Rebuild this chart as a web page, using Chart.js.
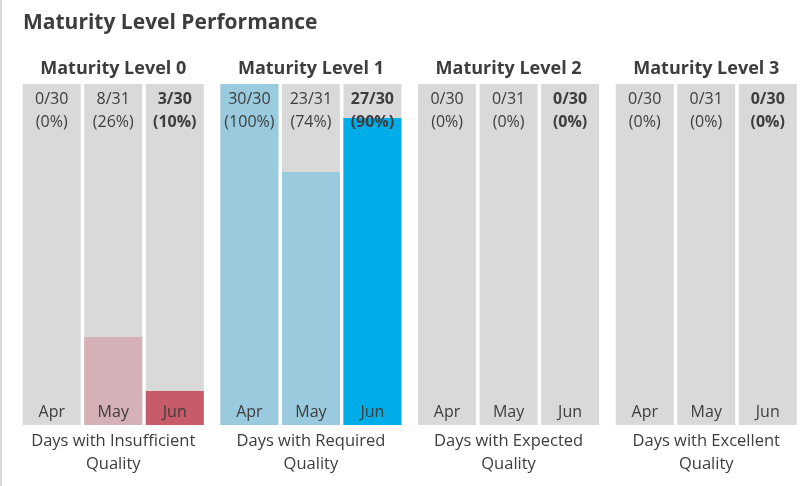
<!DOCTYPE html>
<html>
<head>
<meta charset="utf-8">
<title>Maturity Level Performance</title>
<script src="https://cdn.jsdelivr.net/npm/chart.js@4"></script>
<style>
  html, body { margin: 0; padding: 0; background: #fff; }
  #wrap { position: relative; width: 809px; height: 486px; }
  #wrap::before {
    content: "";
    position: absolute;
    left: 0;
    top: 0;
    width: 2px;
    height: 486px;
    background: #d9d9d9;
  }
</style>
</head>
<body>
<div id="wrap"><canvas id="chart"></canvas></div>
<script>
const chartTitle = "Maturity Level Performance";
const levels = ["Maturity Level 0", "Maturity Level 1", "Maturity Level 2", "Maturity Level 3"];
const qualityLabels = [
  ["Days with Insufficient", "Quality"],
  ["Days with Required", "Quality"],
  ["Days with Expected", "Quality"],
  ["Days with Excellent", "Quality"]
];
const months = ["Apr", "May", "Jun"];
const monthDays = [30, 31, 30];
// days per month that reached each level
const daysMet = [
  [0, 8, 3],
  [30, 23, 27],
  [0, 0, 0],
  [0, 0, 0]
];

const pastColors = ["#D5B0B6", "#9ACADD", "#B8D9A8", "#F2DC9B"];
const currentColors = ["#C75B6A", "#00ADE8", "#70AD47", "#FFC000"];
const trackColor = "#D9D9D9";
const textColor = "#3D3D3D";
const fontFamily = "'Open Sans', Lato, sans-serif";

/* Groups are spaced a little wider than the bars inside them. */
const groupStep = 3.214;

let fillPoints = [];
let trackPoints = [];
let fillColors = [];
daysMet.forEach((row, g) => {
  row.forEach((d, m) => {
    let x = g * groupStep + m;
    fillPoints.push({ x: x, y: (d / monthDays[m]) * 100 });
    trackPoints.push({ x: x, y: 100 });
    fillColors.push(m === months.length - 1 ? currentColors[g] : pastColors[g]);
  });
});

const labelPlugin = {
  id: "maturityLabels",
  afterDatasetsDraw(chart) {
    let ctx = chart.ctx;
    let area = chart.chartArea;
    let bars = chart.getDatasetMeta(0).data;
    ctx.save();
    ctx.fillStyle = textColor;
    ctx.textBaseline = "alphabetic";

    /* Chart title */
    ctx.textAlign = "left";
    ctx.font = "bold 21px " + fontFamily;
    ctx.fillText(chartTitle, 23, 29);

    ctx.textAlign = "center";
    levels.forEach((name, g) => {
      let mid = bars[g * 3 + 1].x;
      ctx.font = "bold 18px " + fontFamily;
      ctx.fillText(name, mid, area.top - 10);

      months.forEach((mon, m) => {
        let bar = bars[g * 3 + m];
        let d = daysMet[g][m];
        let pct = Math.round((d / monthDays[m]) * 100);
        let bold = m === months.length - 1 ? "bold " : "";
        ctx.font = bold + "16px " + fontFamily;
        ctx.fillText(d + "/" + monthDays[m], bar.x, area.top + 20);
        ctx.fillText("(" + pct + "%)", bar.x, area.top + 43);
        ctx.font = "16px " + fontFamily;
        ctx.fillText(mon, bar.x, area.bottom - 8);
      });

      ctx.font = "16.5px " + fontFamily;
      qualityLabels[g].forEach((line, k) => {
        ctx.fillText(line, mid, area.bottom + 21 + k * 23);
      });
    });
    ctx.restore();
  }
};

function draw() {
  let ctx = document.querySelector("#chart").getContext("2d");
  new Chart(ctx, {
    type: "bar",
    data: {
      datasets: [
        {
          label: "Days met",
          data: fillPoints,
          backgroundColor: fillColors,
          grouped: false,
          barThickness: 58,
          borderWidth: 0,
          inflateAmount: 0,
          order: 0
        },
        {
          label: "Days in month",
          data: trackPoints,
          backgroundColor: trackColor,
          grouped: false,
          barThickness: 58,
          borderWidth: 0,
          inflateAmount: 0,
          order: 1
        }
      ]
    },
    options: {
      responsive: true,
      maintainAspectRatio: false,
      animation: false,
      layout: {
        padding: { top: 84, bottom: 61, left: 21, right: 10.5 }
      },
      plugins: {
        legend: { display: false },
        tooltip: { enabled: false },
        title: { display: false }
      },
      scales: {
        x: {
          type: "linear",
          display: false,
          offset: false,
          min: -0.5,
          max: (levels.length - 1) * groupStep + months.length - 0.5
        },
        y: {
          display: false,
          min: 0,
          max: 100
        }
      }
    },
    plugins: [labelPlugin]
  });
}

if (document.fonts && document.fonts.load) {
  Promise.all([
    document.fonts.load("16px 'Open Sans'"),
    document.fonts.load("bold 16px 'Open Sans'")
  ]).then(draw, draw);
} else {
  draw();
}
</script>
</body>
</html>
